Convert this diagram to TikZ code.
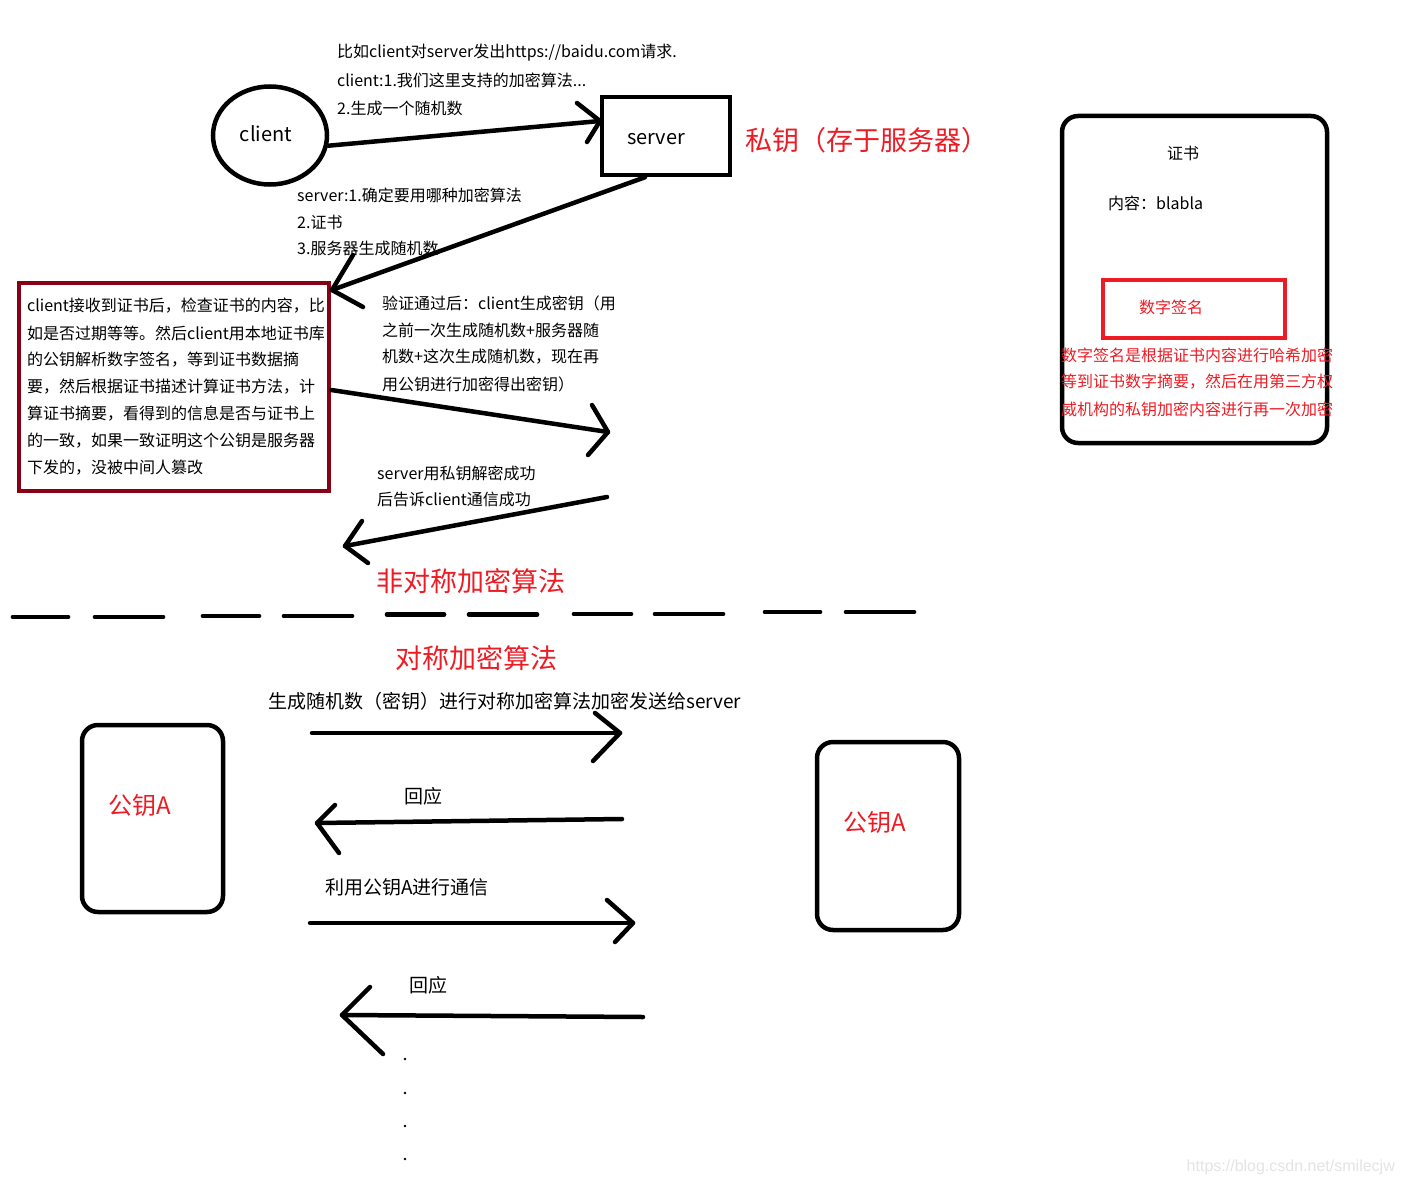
\documentclass[tikz,border=0pt]{standalone}
\usepackage{fontspec}
\setmainfont{Noto Sans CJK SC}
\newfontfamily\wmfont{Liberation Sans}
\usetikzlibrary{shapes.geometric,calc}
\definecolor{pred}{RGB}{237,28,36}
\definecolor{dred}{RGB}{136,0,21}
\definecolor{wmgray}{RGB}{228,228,228}
\begin{document}
\begin{tikzpicture}[x=1pt,y=-1pt,
  conn/.style={line width=4.5pt,line cap=round,line join=round},
  barbs/.style={line width=4.5pt,line cap=round,line join=round},
  txt/.style={inner sep=0pt,anchor=west,font=\fontsize{16}{16}\selectfont},
  big/.style={inner sep=0pt,font=\fontsize{19}{19}\selectfont},
  lbl/.style={inner sep=0pt,font=\fontsize{20}{20}\selectfont},
  title/.style={inner sep=0pt,text=pred,font=\fontsize{27}{27}\selectfont},
  keybox/.style={draw,line width=4.5pt,rounded corners=16pt,minimum width=141pt,minimum height=187pt},
  keytxt/.style={inner sep=0pt,text=pred,font=\fontsize{24}{24}\selectfont},
  dashseg/.style={line width=4.7pt,line cap=round},
]
\path[use as bounding box,fill=white] (0,0) rectangle (1405,1185);

% ---- upper part: asymmetric ----
\node[ellipse,draw,line width=4.5pt,minimum width=114pt,minimum height=98pt,inner sep=0pt] (client) at (270,135.5) {};
\node[lbl] (clientlbl) at (266,134) {client};
\node[draw,line width=4.5pt,minimum width=128pt,minimum height=78pt,inner sep=0pt] (server) at (666,136) {};
\node[lbl] (serverlbl) at (656,139) {server};
\node[title,anchor=west] (privkey) at (745,140) {私钥（存于服务器）};

\node[txt] (c1) at (337,53) {比如client对server发出https://baidu.com请求.};
\node[txt] (c2) at (337,80) {client:1.我们这里支持的加密算法...};
\node[txt] (c3) at (337,108) {2.生成一个随机数};

\node[txt] (s1) at (297,195) {server:1.确定要用哪种加密算法};
\node[txt] (s2) at (297,222) {2.证书};
\node[txt] (s3) at (297,248) {3.服务器生成随机数};

\node[draw=dred,line width=4.5pt,minimum width=310pt,minimum height=208pt,inner sep=0pt] (redbox) at (174,387) {};
\node[txt] (b1) at (27,306) {client接收到证书后，检查证书的内容，比};
\node[txt] (b2) at (27,333) {如是否过期等等。然后client用本地证书库};
\node[txt] (b3) at (27,360) {的公钥解析数字签名，等到证书数据摘};
\node[txt] (b4) at (27,387) {要，然后根据证书描述计算证书方法，计};
\node[txt] (b5) at (27,414) {算证书摘要，看得到的信息是否与证书上};
\node[txt] (b6) at (27,441) {的一致，如果一致证明这个公钥是服务器};
\node[txt] (b7) at (27,468) {下发的，没被中间人篡改};

\node[txt] (v1) at (382,303) {验证通过后：client生成密钥（用};
\node[txt] (v2) at (382,330) {之前一次生成随机数+服务器随};
\node[txt] (v3) at (382,357) {机数+这次生成随机数，现在再};
\node[txt] (v4) at (382,384) {用公钥进行加密得出密钥）};

\node[txt] (k1) at (377,473) {server用私钥解密成功};
\node[txt] (k2) at (377,499) {后告诉client通信成功};

% certificate
\node[draw,line width=4.5pt,rounded corners=16pt,minimum width=265pt,minimum height=327pt,inner sep=0pt] (cert) at (1194.5,279.5) {};
\node[txt,anchor=center] (certt) at (1183,153) {证书};
\node[txt] (content) at (1108,203) {内容：blabla};
\node[draw=pred,line width=4.5pt,minimum width=182pt,minimum height=58pt,inner sep=0pt] (sig) at (1194,309) {};
\node[txt,anchor=center,text=pred] (sigt) at (1171,307) {数字签名};
\node[txt,anchor=center,text=pred] (n1) at (1197,355) {数字签名是根据证书内容进行哈希加密};
\node[txt,anchor=center,text=pred] (n2) at (1197,382) {等到证书数字摘要，然后在用第三方权};
\node[txt,anchor=center,text=pred] (n3) at (1197,409) {威机构的私钥加密内容进行再一次加密};

% arrows upper
\coordinate (a1) at (600,121);
\draw[conn] (client.-10) -- (a1);
\draw[barbs] ($(a1)+(-23,-18)$) -- (a1) -- ($(a1)+(-13,21)$);

\coordinate (a2) at (332,290);
\draw[conn] ($(server.south)+(-21,0)$) -- (a2);
\draw[barbs] ($(a2)+(21,-35)$) -- (a2) -- ($(a2)+(31,17)$);

\coordinate (a3) at (608,432);
\draw[conn] ($(redbox.east)+(0,3)$) -- (a3);
\draw[barbs] ($(a3)+(-16,-27)$) -- (a3) -- ($(a3)+(-20,23)$);

\coordinate (b4s) at (607,497);
\coordinate (a4) at (345,546);
\draw[conn] (b4s) -- (a4);
\draw[barbs] ($(a4)+(17,-25)$) -- (a4) -- ($(a4)+(23,17)$);

\node[title] (asym) at (471,581) {非对称加密算法};

% dashed separator
\foreach \xa/\xb/\xc/\xd/\yy in {13/68/95/163/617, 203/259/284/352/616, 387/444/469/537/614.5, 574/631/655/723/614, 765/820/846/914/612}{
  \draw[dashseg] (\xa,\yy) -- (\xb,\yy);
  \draw[dashseg] (\xc,\yy) -- (\xd,\yy);
}

% ---- lower part: symmetric ----
\node[title] (sym) at (476,658) {对称加密算法};
\node[big,anchor=west] (gen) at (268,701) {生成随机数（密钥）进行对称加密算法加密发送给server};

\node[keybox] (kA) at (152.5,818.5) {};
\node[keytxt] (kAt) at (140,805) {公钥A};
\node[keybox,minimum width=142pt,minimum height=188pt] (kB) at (888,836) {};
\node[keytxt] (kBt) at (875,822) {公钥A};

\coordinate (b5) at (312,733);
\coordinate (a5) at (620,733);
\draw[conn] (b5) -- (a5);
\draw[barbs] ($(a5)+(-25,-20)$) -- (a5) -- ($(a5)+(-27,28)$);

\node[big] (re1) at (423,796) {回应};
\coordinate (b6) at (622,819);
\coordinate (a6) at (317,823);
\draw[conn] (b6) -- (a6);
\draw[barbs] ($(a6)+(18,-18)$) -- (a6) -- ($(a6)+(22,30)$);

\node[big,anchor=west] (use) at (325,887) {利用公钥A进行通信};
\coordinate (b7) at (310,923);
\coordinate (a7) at (633,923);
\draw[conn] (b7) -- (a7);
\draw[barbs] ($(a7)+(-26,-23)$) -- (a7) -- ($(a7)+(-18,19)$);

\node[big,anchor=west] (re2) at (409,985) {回应};
\coordinate (b8) at (643,1017);
\coordinate (a8) at (342,1015);
\draw[conn] (b8) -- (a8);
\draw[barbs] ($(a8)+(28,-28)$) -- (a8) -- ($(a8)+(41,39)$);

\foreach \yy in {1059,1093,1126,1159}{
  \fill (405,\yy) circle (1.3pt);
}

\node[inner sep=0pt,text=wmgray,font=\wmfont\fontsize{16}{16}\selectfont,anchor=east] (wm) at (1395,1167) {https://blog.csdn.net/smilecjw};
\end{tikzpicture}
\end{document}
